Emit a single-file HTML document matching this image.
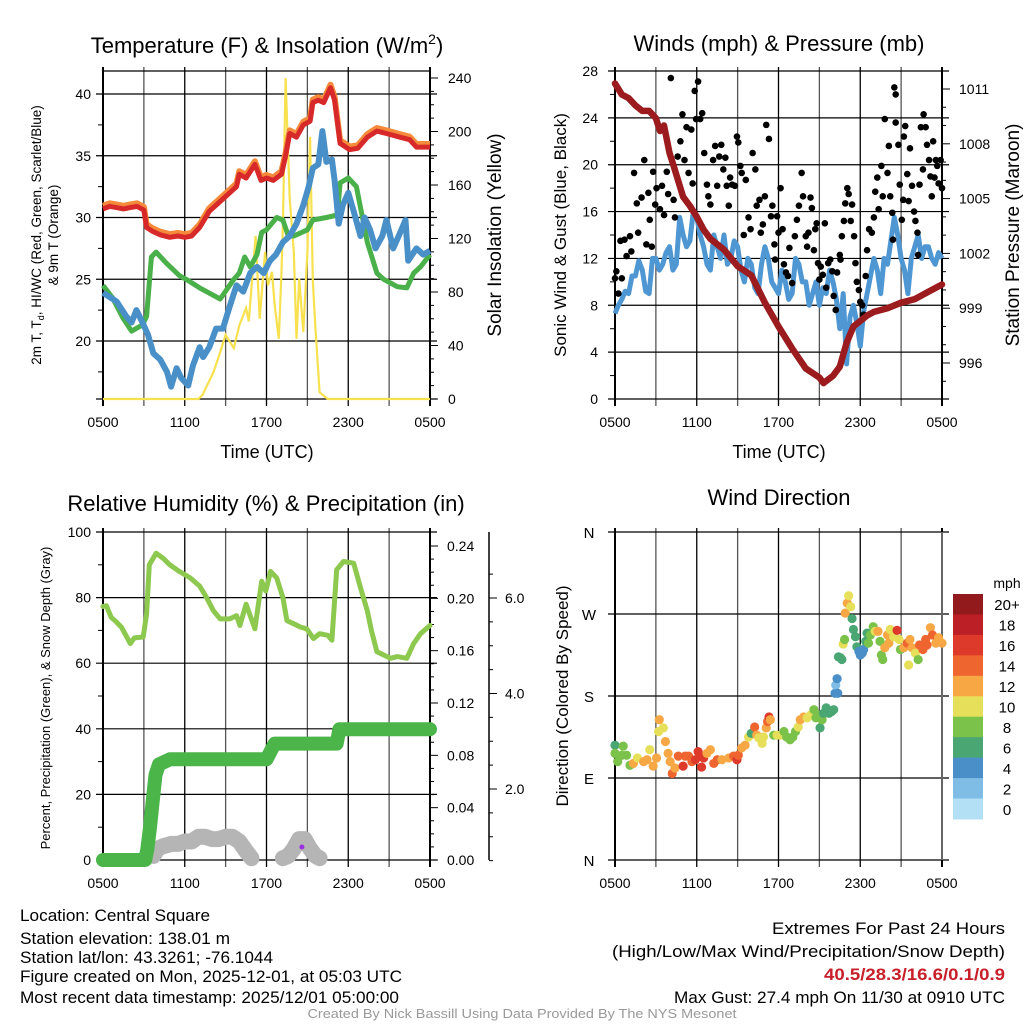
<!DOCTYPE html>
<html><head><meta charset="utf-8"><style>
html,body{margin:0;padding:0;background:#fff;}
svg{display:block;font-family:"Liberation Sans",sans-serif;}
</style></head><body>
<svg id="s" width="1024" height="1024" viewBox="0 0 1024 1024" xmlns="http://www.w3.org/2000/svg"></svg>
<script>
// ---------- DATA ----------
const tempHours=[0,0.5,1,1.5,2,2.5,3,3.2,3.6,4.2,4.9,5.5,6,6.5,7.1,7.8,8.3,8.8,9.3,9.8,10,10.5,11.15,11.6,12,12.5,13.1,13.4,13.7,14.2,14.7,15.2,15.4,15.8,16.2,16.7,17.0,17.4,18.1,18.7,19.4,20.1,20.8,21.8,22.5,23,24];
const tempRed=[30.7,30.9,30.8,30.7,30.8,30.9,30.6,29.2,28.9,28.6,28.4,28.5,28.4,28.5,29.2,30.5,31,31.5,32,32.5,33.5,33.2,34.3,33,33.2,33,33.5,35,36.8,36.5,37.5,37.8,39.3,39.5,39.3,40.5,39.5,36,35.5,35.6,36.5,37,36.8,36.5,36.3,35.7,35.7];
const chillHours=[0,1.0,1.7,2.1,2.45,2.9,3.3,3.7,4.2,4.7,5.0,5.4,5.75,6.25,6.6,7.1,7.35,7.8,8.3,8.8,9.3,9.8,10.3,10.8,11.3,11.8,12.25,12.7,13.2,13.7,14.2,14.7,15.1,15.4,15.8,16.1,16.4,16.8,17.0,17.3,17.6,18,18.4,18.9,19.2,19.6,20,20.5,20.8,21.3,21.7,22.2,22.4,23,23.5,24];
const chillBlue=[23.9,23.2,22,21.5,22.5,21.5,20.5,19,18.5,17.5,16.3,17.8,17,16.4,18,19.5,18.7,19.5,21,21,22.8,24.5,24,25.5,26,25.5,26.5,27,28,28.5,29.5,31,32.5,34,34.3,37,34.5,34.7,33,29.5,31,32,30.5,28.5,30,29,27.5,28.5,29.8,27.5,28.5,29.8,26.5,27.5,27,27.3];
const dewHours=[0,0.7,1.5,2.1,2.9,3.2,3.55,3.9,4.65,5.6,6.1,7.1,8.6,9.6,10,10.4,10.8,11.3,11.65,12,12.75,13.2,13.6,14.0,15,15.4,16.4,17.2,17.4,18,18.6,19.4,20.1,20.6,21.6,22.3,22.8,23.3,24];
const dewGreen=[24.5,23.5,21.8,20.8,21.3,22,26.8,27.2,26.3,25.3,25,24.3,23.4,25,25.5,26.8,26,27,28.8,29,30,29.8,28.5,28.5,29,29.8,30,30.2,32.8,33.2,32.5,28,25.5,25,24.4,24.3,25.5,26,27];
const solarHours=[0,7.0,7.3,8.1,8.6,9,9.6,10,10.5,10.7,11.2,11.5,11.9,12.1,12.4,12.6,12.9,13.1,13.2,13.4,13.7,14.0,14.2,14.4,14.7,15.0,15.2,15.4,15.6,15.9,16.5,24];
const solarYellow=[0,0,3,20,35,48,38,55,68,58,122,60,110,85,95,70,45,95,130,240,150,110,45,90,50,110,196,89,52,5,0,0];
const presHours=[0,0.5,1,1.5,2,2.5,3,3.3,3.6,4,4.3,5,5.5,6,6.5,7,8,9,10,11,12,13,14,15,15.3,16,16.5,17,17.5,18,18.5,19,20,21,22,23,24];
const presMaroon=[1011.3,1010.7,1010.5,1010.1,1009.8,1009.8,1009.4,1008.7,1009,1007.5,1006.8,1005.1,1004.6,1004.0,1003.3,1002.8,1002.2,1001.3,1000.8,999.3,998.0,996.8,995.7,995.2,994.9,995.3,995.8,997.1,998.0,998.3,998.6,998.8,999.0,999.3,999.5,999.9,1000.3];
const windHours=[0,0.25,0.5,0.75,1,1.25,1.5,1.75,2,2.25,2.5,2.75,3,3.25,3.5,3.75,4,4.25,4.5,4.75,5,5.25,5.5,5.75,6,6.25,6.5,6.75,7,7.25,7.5,7.75,8,8.25,8.5,8.75,9,9.25,9.5,9.75,10,10.25,10.5,10.75,11,11.25,11.5,11.75,12,12.25,12.5,12.75,13,13.25,13.5,13.75,14,14.25,14.5,14.75,15,15.25,15.5,15.75,16,16.25,16.5,16.75,17,17.25,17.5,17.75,18,18.25,18.5,18.75,19,19.25,19.5,19.75,20,20.25,20.5,20.75,21,21.25,21.5,21.75,22,22.25,22.5,22.75,23,23.25,23.5,23.75,24];
const windBlue=[7.3,8,8.5,9.2,9,10.5,10.5,11.8,11,9.2,9,12,12,11,11.5,12.5,13,11,11.5,15.5,14,13,13.5,16,15.5,14,13,11.5,11,14,13,12,14,11.5,12,13.5,13,11,10,12,11.5,9.5,9,11.5,13,12,10,9.5,9,11,10,8.5,9,12,11.5,10,10,8,9,10,8,9.5,9,11,10,8.5,6,9,3,7,8,6.5,4.5,7.5,9,10.5,12,11,9,12,11.5,13.5,15.5,14,12,11,9,12,13,14,12,13,13,12,11.5,12.5,12];
const gustHours=[0,0.1,0.25,0.4,0.5,0.7,0.85,1.1,1.2,1.4,1.6,1.7,1.95,2.15,2.3,2.45,2.55,2.7,2.8,2.95,3.05,3.3,3.45,3.6,3.8,3.9,4.1,4.3,4.4,4.6,4.8,4.95,5.1,5.25,5.4,5.6,5.7,5.85,5.95,6.1,6.25,6.4,6.55,6.75,6.85,7.0,7.2,7.35,7.5,7.65,7.8,7.95,8.1,8.2,8.35,8.45,8.6,8.8,8.95,9.05,9.2,9.3,9.45,9.6,9.8,9.95,10.1,10.3,10.4,10.6,10.7,10.85,11.0,11.1,11.3,11.45,11.55,11.7,11.75,11.9,12.0,12.15,12.3,12.4,12.55,12.7,12.8,13.0,13.2,13.35,13.5,13.7,13.8,14.0,14.1,14.2,14.35,14.45,14.6,14.7,14.8,14.9,15.0,15.1,15.25,15.4,15.5,15.65,15.8,15.95,16.05,16.2,16.3,16.5,16.55,16.65,16.8,16.9,17.05,17.15,17.3,17.4,17.55,17.65,17.75,17.9,18.0,18.15,18.25,18.4,18.5,18.65,18.85,19.0,19.1,19.25,19.35,19.55,19.65,19.8,20.0,20.1,20.2,20.35,20.4,20.5,20.6,20.6,20.8,20.9,21.05,21.15,21.2,21.3,21.45,21.55,21.65,21.8,21.95,22.05,22.2,22.25,22.35,22.45,22.6,22.65,22.8,22.9,23.05,23.15,23.25,23.35,23.45,23.55,23.65,23.75,23.9,24.0];
const gustBlack=[10.3,10.9,9.0,13.5,10.3,13.6,12.2,13.9,12.6,19.3,16.7,14.2,17.2,20.4,13.2,17.6,15.3,13.0,19.4,16.6,18.0,16.2,18.2,15.7,19.4,17.5,27.4,17.0,15.5,20.7,22.0,24.3,20.4,23.2,19.3,23.0,18.4,26.3,23.9,27.1,23.9,24.4,21.0,18.3,17.3,16.6,20.4,21.6,18.2,20.7,21.7,19.6,20.6,18.2,16.5,18.9,18.3,18.2,22.4,21.9,19.9,19.3,14.0,18.7,15.5,14.5,21.0,19.6,16.5,17.0,14.2,14.9,17.3,23.4,22.2,15.6,16.5,13.2,11.9,15.6,14.2,18.0,14.5,11.5,10.8,10.5,12.9,9.9,13.9,15.3,16.5,19.3,17.3,13.9,13.0,14.2,17.2,16.3,12.7,14.5,15.0,11.6,10.2,11.3,10.6,15.0,9.5,11.6,11.9,10.9,8.8,7.6,10.8,12.3,11.9,13.9,15.2,16.7,18.0,17.5,15.2,16.6,13.9,11.6,10.0,9.3,8.3,8.0,7.2,10.5,12.7,14.5,14.2,15.5,17.7,18.9,16.2,19.9,17.3,23.9,19.3,21.6,17.3,15.9,13.6,26.6,26.0,23.6,21.7,18.3,15.3,17.0,22.4,23.3,19.2,16.9,21.4,18.2,16.0,15.2,14.2,12.3,18.3,23.2,19.6,24.3,23.2,21.7,20.4,19.0,17.3,22.0,18.9,20.4,19.9,18.4,20.4,18.0];
const rhHours=[0,0.25,0.6,1.0,1.35,2.0,2.3,2.95,3.2,3.4,3.9,4.4,4.9,5.6,6.4,7.1,7.6,8.1,8.6,9.3,9.8,10.05,10.5,11.15,11.65,11.95,12.3,12.75,13.2,13.5,14.0,14.5,14.95,15.45,15.9,16.5,16.8,17.15,17.65,18.4,18.9,19.4,19.7,20.1,20.6,21.1,21.6,22.3,22.8,23.3,24];
const rhGreen=[77.3,77.5,74,72.5,71,66,67.7,68,75,90,93.5,92,90,88,86,83.5,80,76,73.5,73.5,74.5,71.5,78,70.5,85,82,88,86,80,73,72,71,70.5,67.5,69,68.5,67,88.5,91,90.5,83,76,70,63.5,62.5,61.5,62,61.5,66,69,71.5];
const precipHours=[0,3.1,3.25,3.45,3.65,3.85,4.1,4.9,12.0,12.6,17.15,17.35,24];
const precipTotal=[0,0,0.008,0.025,0.045,0.065,0.073,0.077,0.077,0.089,0.089,0.1,0.1];
const snowHours1=[3.7,4.0,4.4,5,5.5,6,6.5,7,7.5,8,8.5,9,9.5,10,10.5,10.9];
const snowDepth1=[0.6,0.75,0.8,0.85,0.85,0.9,0.9,1.0,1.0,0.95,0.95,1.0,1.0,0.9,0.7,0.55];
const snowHours2=[13.2,13.6,14.0,14.4,14.8,15.2,15.6,15.9];
const snowDepth2=[0.55,0.6,0.75,0.95,0.95,0.75,0.6,0.55];
const dirHours=[0,0,0.2,0.5,0.6,0.85,1.1,1.35,1.65,2.1,2.35,2.55,2.8,3.05,3.2,3.25,3.55,3.7,3.9,4.05,4.2,4.4,4.65,5.0,5.15,5.4,5.65,5.9,6.1,6.25,6.35,6.5,6.75,7.0,7.25,7.5,7.85,8.35,8.7,8.95,9.05,9.3,9.55,9.8,10.0,10.25,10.4,10.55,10.8,10.9,11.1,11.2,11.3,11.4,11.65,11.9,12.15,12.4,12.6,12.85,13.05,13.25,13.45,13.6,13.85,14.1,14.35,14.6,14.75,14.95,15.05,15.2,15.3,15.5,15.7,15.9,16.05,16.15,16.2,16.3,16.35,16.4,16.55,16.65,16.75,16.85,16.9,17.05,17.15,17.3,17.4,17.5,17.65,17.75,17.9,18.0,18.15,18.25,18.4,18.5,18.6,18.75,18.95,19.1,19.3,19.45,19.55,19.65,19.8,20.0,20.1,20.2,20.45,20.7,20.85,20.95,21.2,21.45,21.55,21.65,21.8,22.05,22.25,22.35,22.6,22.8,22.9,23.15,23.3,23.55,23.75,24.0];
const dirDeg=[126,117,108,115,125,115,104,106,112,108,110,121,103,112,141,154,145,130,117,108,95,101,114,103,114,114,108,110,119,114,102,112,117,121,106,110,110,112,114,110,115,123,126,135,139,146,137,134,128,135,145,152,157,154,137,137,137,141,135,132,135,141,146,154,157,156,159,165,156,159,145,154,161,167,161,163,165,183,192,199,183,223,222,220,237,242,271,282,290,278,265,253,245,234,229,225,227,231,240,249,238,247,256,251,251,240,225,220,233,247,238,253,245,252,242,231,233,238,214,242,233,227,220,236,231,242,236,255,247,238,244,238];
const dirSpeed=[6,8,8,8,8,8,8,12,10,12,12,10,12,12,10,12,10,12,12,12,14,12,14,16,14,14,14,16,16,16,16,16,12,12,14,14,12,12,14,16,14,12,12,10,6,14,12,10,10,10,12,14,16,12,8,10,10,8,8,8,8,8,10,12,12,10,10,8,8,8,6,8,6,6,6,6,6,4,2,4,4,6,6,6,10,8,12,12,10,10,6,6,6,6,4,4,4,4,6,6,8,8,8,10,12,8,8,8,12,12,12,10,10,16,10,8,12,14,10,12,12,10,8,14,14,14,14,12,14,12,12,12];
const xTickLabels=["0500","1100","1700","2300","0500"];
const speedLabels=["20+","18","16","14","12","10","8","6","4","2","0"];
const speedColors=["#931a1c","#bd1f26","#de3a2c","#ef6530","#f7a845","#e6df5a","#7bc24a","#4aa673","#4a8fc8","#80bde6","#b3e0f5"];

// ---------- DRAW ----------
const NS="http://www.w3.org/2000/svg";
const svg=document.getElementById('s');
function el(tag,attrs,parent){const e=document.createElementNS(NS,tag);for(const k in attrs)e.setAttribute(k,attrs[k]);(parent||svg).appendChild(e);return e;}
function txt(x,y,s,size,anchor,parent,extra){const t=el('text',Object.assign({x:x,y:y,'font-size':size,'text-anchor':anchor||'middle',fill:'#000'},extra||{}),parent);t.textContent=s;return t;}
function linFn(d0,d1,p0,p1){return v=>p0+(v-d0)*(p1-p0)/(d1-d0);}
function pathFrom(xs,ys,fx,fy){return xs.map((h,i)=>(i?'L':'M')+fx(h).toFixed(1)+','+fy(ys[i]).toFixed(1)).join('');}

function frame(g,L,R,T,B){
  const fx=linFn(0,24,L,R);
  for(let h=0;h<=24;h+=3){const x=fx(h);el('line',{x1:x,x2:x,y1:T-4,y2:B+7,stroke:(h%6==0)?'#000':'#555','stroke-width':(h==0||h==24)?2:1.3},g);}
  xTickLabels.forEach((s,i)=>{const t=txt(fx(i*6),B+28,s,14,'middle',g);});
  return fx;
}
function hgrid(g,L,R,y,ext){el('line',{x1:L-7,x2:R+(ext||7),y1:y,y2:y,stroke:'#000','stroke-width':1.2},g);}

// Panel 1
(function(){
  const g=el('g',{});
  const L=103,R=430,T=71,B=399;
  const fx=frame(g,L,R,T,B);
  const fy=linFn(20,40,341,94);const fs=linFn(0,240,399,78);
  el('line',{x1:L,x2:R,y1:T,y2:T,stroke:'#000','stroke-width':1.2},g);
  el('line',{x1:L-7,x2:R+7,y1:B,y2:B,stroke:'#000','stroke-width':1.2},g);
  [20,25,30,35,40].forEach(v=>{hgrid(g,L,R,fy(v));txt(L-12,fy(v)+5,String(v),14,'end',g);});
  for(let v=17.5;v<42;v+=2.5){if(v%5)el('line',{x1:L-5,x2:L,y1:fy(v),y2:fy(v),stroke:'#000'},g);}
  [0,40,80,120,160,200,240].forEach(v=>{el('line',{x1:R,x2:R+8,y1:fs(v),y2:fs(v),stroke:'#000'},g);txt(R+18,fs(v)+5,String(v),14,'start',g);});
  for(let v=10;v<240;v+=10){if(v%40)el('line',{x1:R,x2:R+4,y1:fs(v),y2:fs(v),stroke:'#000'},g);}
  el('line',{x1:R,x2:R,y1:T,y2:B,stroke:'#000','stroke-width':1.5},g);
  const yl=el('path',{d:pathFrom(solarHours,solarYellow,fx,fs),fill:'none',stroke:'#f7e14e','stroke-width':2.2},g);
  const gl=el('path',{d:pathFrom(dewHours,dewGreen,fx,fy),fill:'none',stroke:'#4ab04a','stroke-width':5,'stroke-linejoin':'round'},g);
  const bl=el('path',{d:pathFrom(chillHours,chillBlue,fx,fy),fill:'none',stroke:'#4a90c8','stroke-width':6,'stroke-linejoin':'round'},g);
  const ol=el('path',{d:pathFrom(tempHours,tempRed.map(v=>v+0.25),fx,fy),fill:'none',stroke:'#f58a3a','stroke-width':6,'stroke-linejoin':'round'},g);
  const rl=el('path',{d:pathFrom(tempHours,tempRed,fx,fy),fill:'none',stroke:'#d7282a','stroke-width':5,'stroke-linejoin':'round'},g);
  const t=el('text',{x:267,y:53,'font-size':22,'text-anchor':'middle'},g);
  t.innerHTML='Temperature (F) &amp; Insolation (W/m<tspan dy="-9" font-size="14">2</tspan><tspan dy="9">)</tspan>';
  const a=el('text',{x:0,y:0,'font-size':13.5,'text-anchor':'middle',transform:'translate(41,235) rotate(-90)'},g);
  a.innerHTML='2m T, T<tspan dy="3" font-size="9">d</tspan><tspan dy="-3">, HI/WC (Red, Green, Scarlet/Blue)</tspan>';
  txt(0,0,'& 9m T (Orange)',13.5,'middle',g,{transform:'translate(58,235) rotate(-90)'});
  const a3=txt(0,0,'Solar Insolation (Yellow)',19,'middle',g,{transform:'translate(501,235) rotate(-90)'});
  const xt=txt(267,458,'Time (UTC)',18,'middle',g);
})();

// Panel 2
(function(){
  const g=el('g',{});
  const L=615,R=942,T=71,B=399;
  const fx=frame(g,L,R,T,B);
  const fy=linFn(0,28,399,71);const fp=linFn(996,1011,363,89);
  [0,4,8,12,16,20,24,28].forEach(v=>{hgrid(g,L,R,fy(v));txt(L-17,fy(v)+5,String(v),14,'end',g);});
  for(let v=2;v<28;v+=4)el('line',{x1:L-5,x2:L,y1:fy(v),y2:fy(v),stroke:'#000'},g);
  [996,999,1002,1005,1008,1011].forEach(v=>{el('line',{x1:R,x2:R+8,y1:fp(v),y2:fp(v),stroke:'#000'},g);txt(R+17,fp(v)+5,String(v),14,'start',g);});
  for(let v=995;v<1012;v++){if(v%3)el('line',{x1:R,x2:R+4,y1:fp(v),y2:fp(v),stroke:'#000'},g);}
  el('line',{x1:R,x2:R,y1:T,y2:B,stroke:'#000','stroke-width':1.5},g);
  const bl=el('path',{d:pathFrom(windHours,windBlue,fx,fy),fill:'none',stroke:'#4f97d3','stroke-width':5,'stroke-linejoin':'round'},g);
  gustHours.forEach((h,i)=>{const c=el('circle',{cx:fx(h),cy:fy(gustBlack[i]),r:3.3,fill:'#000'},g);});
  const pl=el('path',{d:pathFrom(presHours,presMaroon,fx,fp),fill:'none',stroke:'#9b1b1e','stroke-width':6.5,'stroke-linejoin':'round','stroke-linecap':'round'},g);
  const t=txt(779,51,'Winds (mph) & Pressure (mb)',22,'middle',g);
  const a=txt(0,0,'Sonic Wind & Gust (Blue, Black)',17,'middle',g,{transform:'translate(566,235) rotate(-90)'});
  const a2=txt(0,0,'Station Pressure (Maroon)',19,'middle',g,{transform:'translate(1019,235) rotate(-90)'});
  const xt=txt(779,458,'Time (UTC)',18,'middle',g);
})();

// Panel 3
(function(){
  const g=el('g',{});
  const L=103,R=430,T=532,B=860;
  const fx=frame(g,L,R,T,B);
  const fy=linFn(0,100,860,532);const fpr=linFn(0,0.24,860,546);const fsn=linFn(2,6,789,598);
  [0,20,40,60,80,100].forEach(v=>{hgrid(g,L,R,fy(v),0);txt(L-12,fy(v)+5,String(v),14,'end',g);});
  for(let v=10;v<100;v+=20)el('line',{x1:L-5,x2:L,y1:fy(v),y2:fy(v),stroke:'#000'},g);
  ['0.00','0.04','0.08','0.12','0.16','0.20','0.24'].forEach((s,i)=>{const v=i*0.04;el('line',{x1:R,x2:R+8,y1:fpr(v),y2:fpr(v),stroke:'#000'},g);txt(R+17,fpr(v)+5,s,14,'start',g);});
  for(let v=0.01;v<0.25;v+=0.01){if(Math.round(v*100)%4)el('line',{x1:R,x2:R+4,y1:fpr(v),y2:fpr(v),stroke:'#000'},g);}
  el('line',{x1:R,x2:R,y1:T,y2:B,stroke:'#000','stroke-width':1.5},g);
  el('line',{x1:489,x2:489,y1:532,y2:860,stroke:'#000','stroke-width':1.5},g);
  [2,4,6].forEach(v=>{el('line',{x1:489,x2:497,y1:fsn(v),y2:fsn(v),stroke:'#000'},g);txt(505,fsn(v)+5,v.toFixed(1),14,'start',g);});
  for(let v=0.5;v<7;v+=0.5){if(v%2)el('line',{x1:489,x2:493,y1:fsn(v),y2:fsn(v),stroke:'#000'},g);}
  const rl=el('path',{d:pathFrom(rhHours,rhGreen,fx,fy),fill:'none',stroke:'#8dc84f','stroke-width':5,'stroke-linejoin':'round','stroke-linecap':'round'},g);
  [[snowHours1,snowDepth1],[snowHours2,snowDepth2]].forEach(sg=>{const p=el('path',{d:pathFrom(sg[0],sg[1],fx,fsn),fill:'none',stroke:'#b5b5b5','stroke-width':16,'stroke-linejoin':'round','stroke-linecap':'round'},g);});
  el('circle',{cx:fx(14.6),cy:847,r:2.5,fill:'#9b30e0'},g);
  const pp=el('path',{d:pathFrom(precipHours,precipTotal,fx,fpr),fill:'none',stroke:'#4bb54a','stroke-width':14,'stroke-linejoin':'round','stroke-linecap':'round'},g);
  const t=txt(266,511,'Relative Humidity (%) & Precipitation (in)',22,'middle',g);
  const a=txt(0,0,'Percent, Precipitation (Green), & Snow Depth (Gray)',13,'middle',g,{transform:'translate(50,698) rotate(-90)'});
})();

// Panel 4
(function(){
  const g=el('g',{});
  const L=615,R=942,T=532,B=860;
  const fx=frame(g,L,R,T,B);
  const fy=linFn(0,360,860,532);
  ['N','E','S','W','N'].forEach((s,i)=>{const v=i*90;hgrid(g,L,R,fy(v));txt(L-26,fy(v)+6,s,15,'middle',g);});
  el('line',{x1:R,x2:R,y1:T,y2:B,stroke:'#888','stroke-width':1.5},g);
  dirHours.forEach((h,i)=>{const idx=Math.max(0,Math.min(10,10-Math.floor(dirSpeed[i]/2)));const c=el('circle',{cx:fx(h),cy:fy(dirDeg[i]),r:4.6,fill:speedColors[idx]},g);});
  const t=txt(779,505,'Wind Direction',22,'middle',g);
  const a=txt(0,0,'Direction (Colored By Speed)',17,'middle',g,{transform:'translate(568,696) rotate(-90)'});
  const lg=el('g',{},g);
  const bh=225/11;
  speedColors.forEach((c,i)=>{el('rect',{x:953,y:594+i*bh,width:30,height:bh+0.5,fill:c},lg);const tl=txt(1007,594+i*bh+bh/2+6,speedLabels[i],15,'middle',lg);});
  txt(1007,588,'mph',14,'middle',lg);
})();

// Footer
(function(){
  const g=el('g',{});
  const lines=[['Location: Central Square',915,190],['Station elevation: 138.01 m',938,210],['Station lat/lon: 43.3261; -76.1044',957,253],['Figure created on Mon, 2025-12-01, at 05:03 UTC',976,382],['Most recent data timestamp: 2025/12/01 05:00:00',997,379]];
  lines.forEach(l=>{txt(20,l[1]+6,l[0],16.5,'start',g,{textLength:l[2],lengthAdjust:'spacingAndGlyphs'});});
  const r=el('g',{});
  txt(1005,934,'Extremes For Past 24 Hours',16.5,'end',r,{textLength:233,lengthAdjust:'spacingAndGlyphs'});
  txt(1005,957,'(High/Low/Max Wind/Precipitation/Snow Depth)',16.5,'end',r,{textLength:393,lengthAdjust:'spacingAndGlyphs'});
  txt(1005,980,'40.5/28.3/16.6/0.1/0.9',16.5,'end',r,{textLength:181,lengthAdjust:'spacingAndGlyphs',fill:'#c8202a','font-weight':'bold'});
  txt(1005,1003,'Max Gust: 27.4 mph On 11/30 at 0910 UTC',16.5,'end',r,{textLength:331,lengthAdjust:'spacingAndGlyphs'});
  const c=txt(522,1018,'Created By Nick Bassill Using Data Provided By The NYS Mesonet',13,'middle',svg,{fill:'#999',textLength:429,lengthAdjust:'spacingAndGlyphs'});
  
})();
</script>
</body></html>
